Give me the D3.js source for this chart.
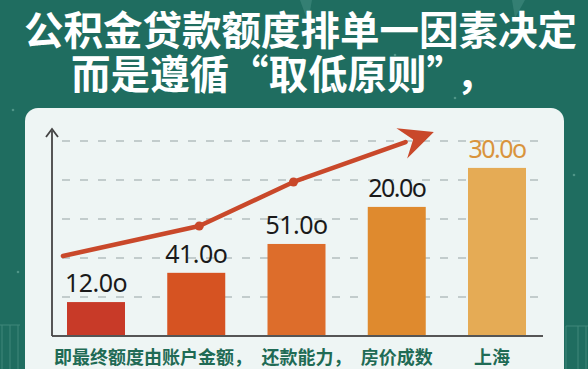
<!DOCTYPE html>
<html>
<head>
<meta charset="utf-8">
<script src="https://cdn.jsdelivr.net/npm/d3@7"></script>
<style>
  html, body { margin: 0; padding: 0; background: #1f6d60; }
  svg { display: block; }
</style>
</head>
<body>
<div id="graphArea"></div>
<script>
// data
var barLabels = ["12.0o", "41.0o", "51.0o", "20.0o", "30.0o"];
var barValues = [8.7, 16.2, 23.6, 33.1, 43.1];
var barColors = ["#c83a28", "#d65322", "#dd6d2b", "#df8a2e", "#e5ab55"];
var categories = ["即最终额度由账户金额，", "还款能力，", "房价成数", "上海"];
var categoryPos = [-0.42, 1.65, 2.64, 3.77];
var trendX = [-0.33, 1.03, 1.97, 3.37];
var trendY = [20.5, 28.2, 39.5, 52.3];
var gridTicks = [10, 20, 30, 40, 50];
var titleLines = [["公积金贷款额度排单一因素决定", ""], ["而是遵循“取低原则”", "，"]];

var width = 588, height = 369;

var svg = d3.select("#graphArea").append("svg")
  .attr("width", width)
  .attr("height", height);

// background
svg.append("rect").attr("width", width).attr("height", height).attr("fill", "#1f6d60");

// some faint decoration
var deco = svg.append("g").attr("stroke", "#4f9486").attr("stroke-width", 1).attr("fill", "none").attr("opacity", 0.7);
[2, 10, 18].forEach(function (x) { deco.append("line").attr("x1", x).attr("x2", x).attr("y1", 325).attr("y2", 369); });
deco.append("line").attr("x1", 0).attr("x2", 20).attr("y1", 325).attr("y2", 325);
[566, 578, 586].forEach(function (x) { deco.append("line").attr("x1", x).attr("x2", x).attr("y1", 326).attr("y2", 369); });
deco.append("line").attr("x1", 566).attr("x2", 588).attr("y1", 326).attr("y2", 326);
svg.append("path").attr("d", "M300,0 L312,0 L308,22 Z").attr("fill", "#4a9285").attr("opacity", 0.5);
svg.append("path").attr("d", "M512,0 L525,0 L515,18 Z").attr("fill", "#4a9285").attr("opacity", 0.5);
[[13, 110], [40, 200], [18, 272], [560, 280], [574, 175], [455, 98], [395, 55]].forEach(function (p) {
  svg.append("circle").attr("cx", p[0]).attr("cy", p[1]).attr("r", 1.3).attr("fill", "#6fb0a2").attr("opacity", 0.6);
});

// title
var titles = svg.selectAll(".title")
  .data(titleLines)
  .enter()
  .append("text")
  .attr("class", "title")
  .attr("x", function (d, i) { return i == 0 ? 24 : 71; })
  .attr("y", function (d, i) { return 45 + i * 44; })
  .attr("fill", "#ffffff")
  .attr("font-family", "'Noto Sans CJK SC'")
  .attr("font-weight", "bold")
  .attr("font-size", 39.5);
titles.append("tspan").text(function (d) { return d[0]; });
titles.append("tspan").attr("dx", 10).text(function (d) { return d[1]; });

// panel
svg.append("rect")
  .attr("x", 25).attr("y", 108)
  .attr("width", 539).attr("height", 290)
  .attr("rx", 13)
  .attr("fill", "#eef5f4");

var x = d3.scaleLinear().domain([0, 4]).range([96, 497]);
var y = d3.scaleLinear().domain([0, 50]).range([336, 141]);
var barW = 58;

// dashed grid
svg.selectAll(".grid")
  .data(gridTicks)
  .enter()
  .append("line")
  .attr("class", "grid")
  .attr("x1", 62).attr("x2", 540)
  .attr("y1", function (d) { return y(d); })
  .attr("y2", function (d) { return y(d); })
  .attr("stroke", "#b4bfbf")
  .attr("stroke-width", 1.5)
  .attr("stroke-dasharray", "8,10");

// bars
svg.selectAll(".bar")
  .data(barValues)
  .enter()
  .append("rect")
  .attr("class", "bar")
  .attr("x", function (d, i) { return x(i) - barW / 2; })
  .attr("y", function (d) { return y(d); })
  .attr("width", barW)
  .attr("height", function (d) { return y(0) - y(d); })
  .attr("fill", function (d, i) { return barColors[i]; });

// value labels
svg.selectAll(".val")
  .data(barValues)
  .enter()
  .append("text")
  .attr("class", "val")
  .attr("x", function (d, i) { return x(i); })
  .attr("y", function (d) { return y(d) - 10; })
  .attr("text-anchor", "middle")
  .attr("font-family", "'Noto Sans'")
  .attr("font-size", 25)
  .attr("letter-spacing", function (d, i) { return i >= 3 ? -1.5 : -0.5; })
  .attr("fill", function (d, i) { return i == 4 ? "#d9943c" : "#1a1a1a"; })
  .text(function (d, i) { return barLabels[i]; });

// axes
svg.append("line")
  .attr("x1", 52).attr("x2", 543)
  .attr("y1", y(0)).attr("y2", y(0))
  .attr("stroke", "#555").attr("stroke-width", 2);
svg.append("line")
  .attr("x1", 52).attr("x2", 52)
  .attr("y1", y(0)).attr("y2", 131)
  .attr("stroke", "#444").attr("stroke-width", 1.8);
svg.append("path")
  .attr("d", "M46,137 L52,129 L58,137")
  .attr("fill", "none").attr("stroke", "#444").attr("stroke-width", 1.8);

// trend line with arrow
var pts = trendX.map(function (d, i) { return [x(d), y(trendY[i])]; });
var tip = pts[pts.length - 1];
var prev = pts[pts.length - 2];
var ang = Math.atan2(tip[1] - prev[1], tip[0] - prev[0]);
var headLen = 30, headW = 16;
var base = [tip[0] - headLen * Math.cos(ang), tip[1] - headLen * Math.sin(ang)];
var linePts = pts.slice(0, -1).concat([base]);

svg.append("path")
  .attr("d", d3.line()(linePts))
  .attr("fill", "none")
  .attr("stroke", "#c9482a")
  .attr("stroke-width", 4.5)
  .attr("stroke-linecap", "round")
  .attr("stroke-linejoin", "round");

var nx = -Math.sin(ang), ny = Math.cos(ang);
svg.append("path")
  .attr("d", d3.line()([
    tip,
    [base[0] + nx * headW - 4 * Math.cos(ang), base[1] + ny * headW - 4 * Math.sin(ang)],
    [base[0] + 8 * Math.cos(ang), base[1] + 8 * Math.sin(ang)],
    [base[0] - nx * headW - 4 * Math.cos(ang), base[1] - ny * headW - 4 * Math.sin(ang)]
  ]) + "Z")
  .attr("fill", "#c9482a");

svg.selectAll(".dot")
  .data(pts.slice(1, -1))
  .enter()
  .append("circle")
  .attr("class", "dot")
  .attr("cx", function (d) { return d[0]; })
  .attr("cy", function (d) { return d[1]; })
  .attr("r", 4.5)
  .attr("fill", "#c9482a");

// category labels
svg.selectAll(".cat")
  .data(categories)
  .enter()
  .append("text")
  .attr("class", "cat")
  .attr("x", function (d, i) { return x(categoryPos[i]); })
  .attr("y", 364)
  .attr("fill", "#1f6b55")
  .attr("font-family", "'Noto Sans CJK SC'")
  .attr("font-weight", "bold")
  .attr("font-size", 18)
  .text(function (d) { return d; });
</script>
</body>
</html>
